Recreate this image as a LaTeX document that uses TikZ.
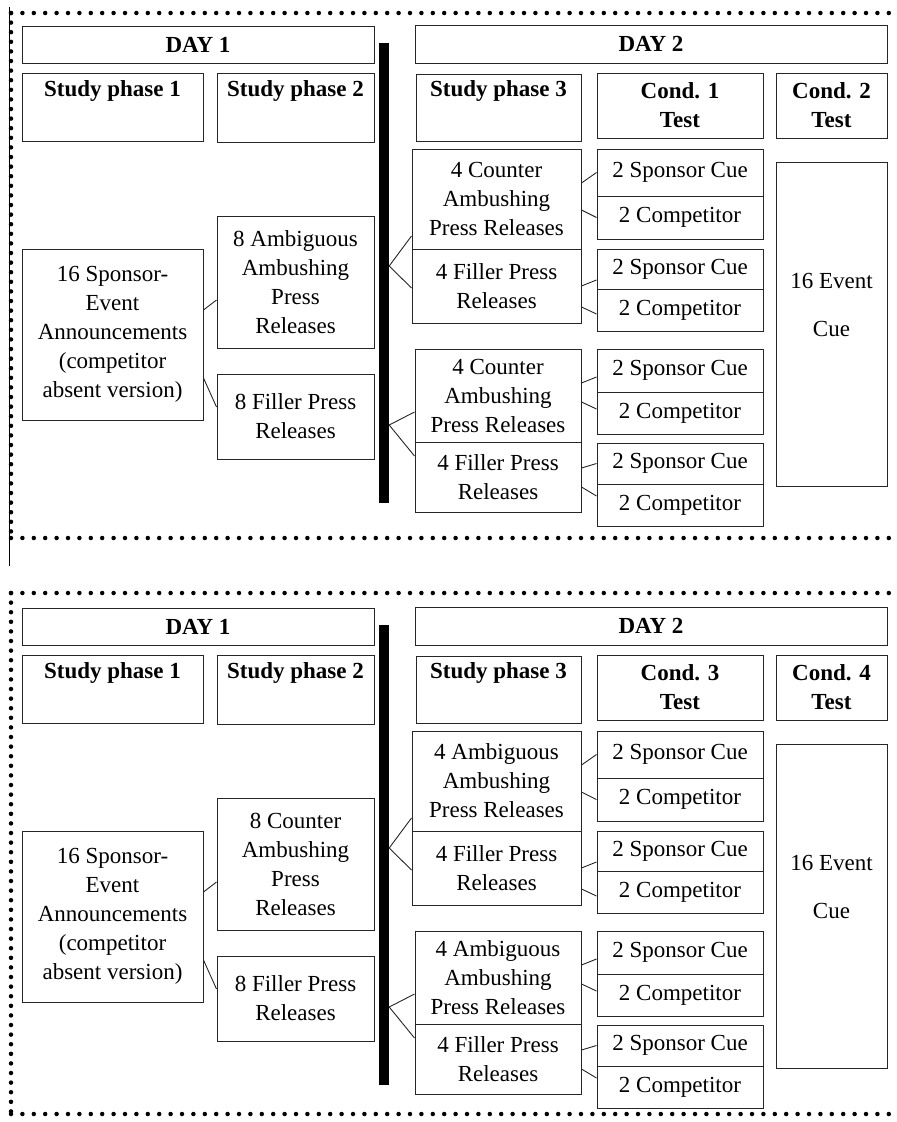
\documentclass[tikz,border=0pt]{standalone}
\usepackage{fontspec}
\setmainfont{Liberation Serif}
\newcommand\figfont{\fontsize{23}{29}\selectfont}
\tikzset{
  box/.style={draw=black!85, line width=1pt, align=center, inner sep=2pt},
  hdr/.style={box, font=\figfont\bfseries},
  sz/.style 2 args={minimum width=#1pt, minimum height=#2pt},
  wire/.style={draw=black!85, line width=0.9pt},
  dotline/.style={line width=4.5pt, line cap=round, dash pattern=on 0pt off 11.4pt},
  vdotline/.style={line width=4.5pt, line cap=round, dash pattern=on 0pt off 9.6pt},
}

\begin{document}
\begin{tikzpicture}[x=1pt, y=-1pt, font=\figfont]
  \useasboundingbox (0,0) rectangle (897,1122);
  \draw[line width=1pt] (9,7) -- (9,566);

  \foreach \p/\dy/\tp/\bt/\sptwo/\spthree/\ca/\cb in
      {a/0/13/538/Ambiguous/Counter/1/2, b/582/11/532/Counter/Ambiguous/3/4}{
  \begin{scope}[shift={(0,\dy)}]
    % border
    \draw[dotline] (11,\tp) -- (897,\tp);
    \draw[dotline] (11,\bt) -- (897,\bt);
    \draw[vdotline] (11,\tp) -- (11,\bt);

    % headers
    \draw (198,44.5) node[hdr, sz={352}{37}] (\p day1) {DAY 1};
    \draw (651,44) node[hdr, sz={472}{38}] (\p day2) {DAY 2};
    \draw (112.5,107) node[hdr, sz={181}{68}] (\p sp1) {Study phase 1\\ \strut};
    \draw (295.5,107.5) node[hdr, sz={157}{69}] (\p sp2) {Study phase 2\\ \strut};
    \draw (498.5,107.5) node[hdr, sz={165}{67}] (\p sp3) {Study phase 3\\ \strut};
    \draw (680,105.5) node[hdr, sz={166}{65}] (\p cx) {Cond. \ca\\Test};
    \draw (831.5,105.5) node[hdr, sz={111}{65}] (\p cy) {Cond. \cb\\Test};

    % day 1
    \draw (112.5,334.5) node[box, sz={181}{171}] (\p ann)
      {16 Sponsor-\\Event\\Announcements\\(competitor\\absent version)};
    \draw (295.5,282) node[box, sz={157}{132}] (\p pr) {8 \sptwo\\Ambushing\\Press\\Releases};
    \draw (295.5,416.5) node[box, sz={157}{85}] (\p pf) {8 Filler Press\\Releases};
    \draw (384,273) node[fill=black, inner sep=0pt, sz={10}{460}] (\p bar) {};

    % day 2
    \draw (496.5,199) node[box, sz={169}{100}] (\p ga) {4 \spthree\\Ambushing\\Press Releases};
    \draw (496.5,286) node[box, sz={169}{74}] (\p fa) {4 Filler Press\\Releases};
    \draw (498,395.5) node[box, sz={166}{93}] (\p gb) {4 \spthree\\Ambushing\\Press Releases};
    \draw (498,477) node[box, sz={166}{70}] (\p fb) {4 Filler Press\\Releases};
    \foreach \n/\ys/\hs/\yk/\hk in {1/172.5/47/217.5/43, 2/269/40/310/42,
                                    3/370.5/43/413/42, 4/463.5/41/505/42}{
      \draw (680,\ys) node[box, sz={166}{\hs}] (\p s\n) {2 Sponsor Cue};
      \draw (680,\yk) node[box, sz={166}{\hk}] (\p k\n) {2 Competitor};
    }
    \draw (831.5,324) node[box, sz={111}{324}] (\p ev) {16 Event\\[19pt]Cue\\ \strut};

    % links
    \path[wire] ([yshift=24.5pt]\p ann.east) edge ([yshift=-18pt]\p pr.west);
    \path[wire] ([yshift=-43.5pt]\p ann.east) edge ([yshift=9.5pt]\p pf.west);
    \path[wire] ([yshift=7pt]\p bar.east) edge ([yshift=-37pt]\p ga.west);
    \path[wire] ([yshift=7pt]\p bar.east) edge ([yshift=-2pt]\p fa.west);
    \path[wire] ([yshift=-152pt]\p bar.east) edge ([yshift=-16.5pt]\p gb.west);
    \path[wire] ([yshift=-152pt]\p bar.east) edge ([yshift=21pt]\p fb.west);
    \path[wire] ([yshift=16pt]\p ga.east) edge (\p s1.west);
    \path[wire] ([yshift=-11pt]\p ga.east) edge (\p k1.west);
    \path[wire] (\p fa.east) edge ([yshift=-11pt]\p s2.west);
    \path[wire] ([yshift=-21pt]\p fa.east) edge ([yshift=-4pt]\p k2.west);
    \path[wire] ([yshift=12.5pt]\p gb.east) edge ([yshift=-6.5pt]\p s3.west);
    \path[wire] ([yshift=-6.5pt]\p gb.east) edge ([yshift=4pt]\p k3.west);
    \path[wire] ([yshift=9pt]\p fb.east) edge (\p s4.west);
    \path[wire] ([yshift=-10pt]\p fb.east) edge ([yshift=9pt]\p k4.west);
  \end{scope}
  }
\end{tikzpicture}
\end{document}
